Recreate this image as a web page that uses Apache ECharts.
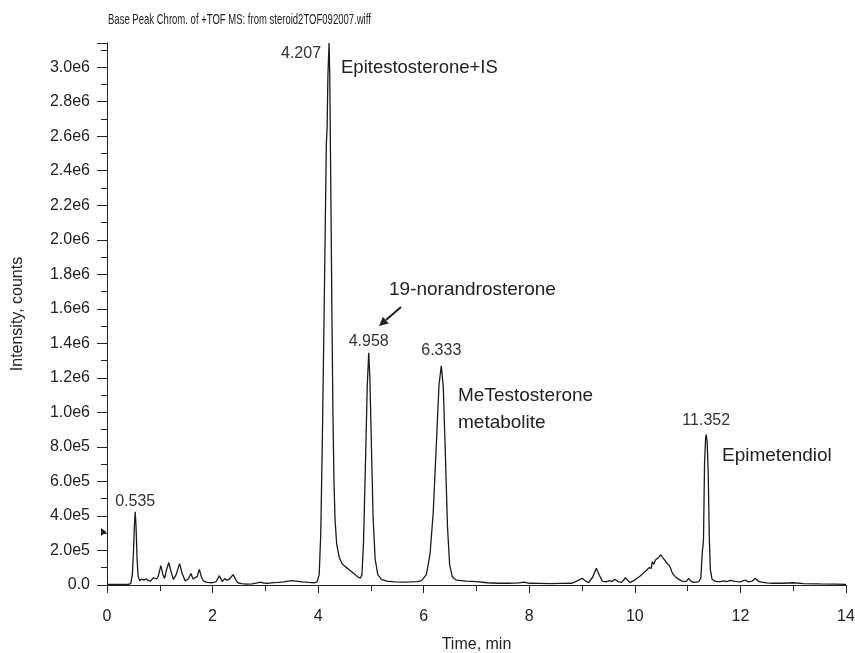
<!DOCTYPE html>
<html>
<head>
<meta charset="utf-8">
<script src="https://cdn.jsdelivr.net/npm/echarts@6/dist/echarts.min.js"></script>
<style>
  html, body { margin: 0; padding: 0; background: #fff; }
  #main { width: 855px; height: 653px; }
</style>
</head>
<body>
<div id="main"></div>
<script>
// trace (time in min, intensity in counts)
const timeMin = [
  0.00, 0.20, 0.40, 0.45, 0.48, 0.50, 0.52, 0.535, 0.55, 0.57, 0.59, 0.62, 0.66, 0.70, 0.74, 0.78, 0.82, 0.88, 0.94, 0.97,
  1.02, 1.06, 1.09, 1.13, 1.17, 1.21, 1.26, 1.31, 1.375, 1.42, 1.48, 1.54, 1.59, 1.63, 1.66, 1.71, 1.75, 1.79, 1.83, 1.90,
  2.00, 2.07, 2.13, 2.18, 2.23, 2.27, 2.31, 2.39, 2.44, 2.48, 2.55, 2.65, 2.75, 2.85, 2.91, 2.97, 3.05, 3.15, 3.25, 3.35,
  3.49, 3.58, 3.70, 3.82, 3.92, 3.98, 4.02, 4.05, 4.08, 4.11, 4.14, 4.155, 4.17, 4.185, 4.207, 4.22, 4.24, 4.26, 4.28, 4.30,
  4.32, 4.35, 4.40, 4.45, 4.52, 4.60, 4.68, 4.76, 4.80, 4.83, 4.86, 4.90, 4.93, 4.958, 4.98, 5.01, 5.04, 5.08, 5.13, 5.20,
  5.30, 5.45, 5.60, 5.75, 5.88, 5.96, 6.05, 6.12, 6.18, 6.24, 6.29, 6.333, 6.37, 6.41, 6.45, 6.49, 6.54, 6.62, 6.80, 7.00,
  7.20, 7.40, 7.60, 7.80, 7.90, 8.00, 8.20, 8.40, 8.60, 8.80, 8.92, 9.00, 9.06, 9.12, 9.20, 9.27, 9.33, 9.38, 9.45, 9.52,
  9.57, 9.62, 9.68, 9.75, 9.82, 9.87, 9.91, 9.98, 10.04, 10.10, 10.16, 10.22, 10.27, 10.29, 10.31, 10.33, 10.36, 10.39, 10.42, 10.45,
  10.47, 10.49, 10.52, 10.55, 10.58, 10.61, 10.63, 10.65, 10.68, 10.70, 10.73, 10.76, 10.80, 10.86, 10.92, 10.98, 11.02, 11.06, 11.11, 11.16,
  11.21, 11.25, 11.28, 11.29, 11.30, 11.32, 11.34, 11.352, 11.37, 11.39, 11.41, 11.43, 11.46, 11.50, 11.55, 11.62, 11.68, 11.74, 11.81, 11.87,
  11.93, 12.00, 12.09, 12.15, 12.22, 12.28, 12.34, 12.40, 12.50, 12.60, 12.80, 13.00, 13.20, 13.50, 13.80, 14.00
];
const intensity = [
  3000, 3000, 4000, 8000, 60000, 180000, 350000, 424000, 340000, 150000, 50000, 25000, 35000, 28000, 36000, 25000, 22000, 42000, 36000, 50000,
  112000, 60000, 38000, 90000, 130000, 80000, 32000, 60000, 124000, 70000, 24000, 35000, 66000, 35000, 24000, 50000, 91000, 45000, 22000, 15000,
  13000, 20000, 54000, 20000, 37000, 28000, 32000, 60000, 30000, 13000, 8000, 5000, 6000, 12000, 17000, 11000, 10000, 14000, 15000, 18000,
  25000, 22000, 18000, 15000, 13000, 18000, 60000, 300000, 850000, 1500000, 2200000, 2550000, 2650000, 2950000, 3140000, 2950000, 2300000, 1600000, 1000000, 600000,
  380000, 240000, 160000, 125000, 105000, 85000, 65000, 45000, 40000, 60000, 250000, 750000, 1150000, 1345000, 1200000, 800000, 400000, 150000, 60000, 33000,
  22000, 18000, 17000, 18000, 20000, 25000, 60000, 180000, 420000, 820000, 1160000, 1270000, 1150000, 760000, 340000, 120000, 48000, 28000, 22000, 19000,
  13000, 10000, 10000, 12000, 17000, 10000, 9000, 8000, 9000, 10000, 25000, 39000, 25000, 13000, 45000, 97000, 55000, 23000, 18000, 25000,
  20000, 33000, 20000, 15000, 42000, 25000, 15000, 25000, 39000, 52000, 68000, 85000, 100000, 106000, 96000, 135000, 120000, 145000, 149000, 160000,
  165000, 174000, 165000, 150000, 145000, 125000, 128000, 115000, 95000, 77000, 60000, 50000, 39000, 28000, 19000, 22000, 39000, 22000, 15000, 17000,
  19000, 40000, 200000, 225000, 260000, 700000, 850000, 872000, 830000, 650000, 280000, 90000, 35000, 25000, 19000, 20000, 24000, 20000, 27000, 22000,
  19000, 18000, 29000, 18000, 22000, 39000, 22000, 17000, 12000, 10000, 10000, 13000, 8000, 6000, 5000, 4000
];

const peakTimes = [0.535, 4.207, 4.958, 6.333, 11.352];
const peakHeights = [424000, 3140000, 1345000, 1270000, 872000];

const yMax = 3140000;

const FONT = "'Liberation Sans', Arial, sans-serif";
const INK = '#222';

const chart = echarts.init(document.getElementById('main'));

const trace = timeMin.map((t, i) => [t, intensity[i]]);

// per-peak label placement (4.207 sits to the left of its apex)
const peakLabelStyle = [
  { position: 'top', distance: 2.5 },
  { position: 'left', distance: 8, offset: [0, 11] },
  { position: 'top', distance: 3.5 },
  { position: 'top', distance: 7 },
  { position: 'top', distance: 6 }
];

function yLabel(v) {
  if (v === 0) return '0.0';
  return v.toExponential(1).replace('e+', 'e');
}

const option = {
  animation: false,
  backgroundColor: '#fff',
  grid: { left: 107, right: 9, top: 43, bottom: 68, outerBoundsMode: 'none', containLabel: false },
  xAxis: {
    type: 'value',
    min: 0,
    max: 14,
    interval: 2,
    name: 'Time, min',
    nameLocation: 'middle',
    nameGap: 52,
    nameTextStyle: { fontFamily: FONT, fontSize: 16, color: INK },
    axisLine: { onZero: false, lineStyle: { color: INK, width: 1 } },
    axisTick: { length: 8, lineStyle: { color: INK } },
    minorTick: { show: true, splitNumber: 2, length: 6, lineStyle: { color: INK } },
    axisLabel: { fontFamily: FONT, fontSize: 16, color: INK, margin: 24 },
    splitLine: { show: false }
  },
  yAxis: {
    type: 'value',
    min: 0,
    max: yMax,
    interval: 200000,
    name: 'Intensity, counts',
    nameLocation: 'middle',
    nameGap: 81,
    nameTextStyle: { fontFamily: FONT, fontSize: 16, color: INK },
    axisLine: { show: true, lineStyle: { color: INK, width: 1 } },
    axisTick: { show: true, length: 10, lineStyle: { color: INK } },
    minorTick: { show: true, splitNumber: 2, length: 6, lineStyle: { color: INK } },
    axisLabel: { fontFamily: FONT, fontSize: 16, color: INK, margin: 17, showMaxLabel: false, formatter: yLabel },
    splitLine: { show: false }
  },
  series: [{
    type: 'line',
    data: trace,
    showSymbol: false,
    silent: true,
    lineStyle: { color: '#1a1a1a', width: 1.3 },
    markPoint: {
      symbol: 'circle',
      symbolSize: 0,
      silent: true,
      data: peakTimes.map((t, i) => ({
        coord: [t, peakHeights[i]],
        value: t.toFixed(3),
        label: Object.assign({
          show: true,
          formatter: '{c}',
          fontFamily: FONT,
          fontSize: 16,
          lineHeight: 16,
          color: '#333'
        }, peakLabelStyle[i])
      }))
    }
  }],
  graphic: [
    // condensed header line, like the instrument printout
    { type: 'text', x: 108, y: 12, scaleX: 0.635, style: { text: 'Base Peak Chrom. of +TOF MS: from steroid2TOF092007.wiff', font: '15px ' + FONT, fill: INK } },
    { type: 'text', left: 341, top: 58, style: { text: 'Epitestosterone+IS', font: '18.5px ' + FONT, fill: INK } },
    { type: 'text', left: 389, top: 280, style: { text: '19-norandrosterone', font: '19px ' + FONT, fill: INK } },
    { type: 'text', left: 458, top: 386, style: { text: 'MeTestosterone', font: '19px ' + FONT, fill: INK } },
    { type: 'text', left: 458, top: 413, style: { text: 'metabolite', font: '19px ' + FONT, fill: INK } },
    { type: 'text', left: 722, top: 446, style: { text: 'Epimetendiol', font: '19px ' + FONT, fill: INK } },
    // arrow pointing at the 19-norandrosterone peak
    { type: 'line', shape: { x1: 401, y1: 307, x2: 386, y2: 320 }, style: { stroke: INK, lineWidth: 2.2 } },
    { type: 'polygon', shape: { points: [[379, 326], [382.9, 316.7], [388.7, 323.5]] }, style: { fill: INK } },
    // small threshold marker on the y axis
    { type: 'polygon', shape: { points: [[101, 528], [106.5, 532], [101, 536]] }, style: { fill: INK } }
  ]
};

chart.setOption(option);
</script>
</body>
</html>
